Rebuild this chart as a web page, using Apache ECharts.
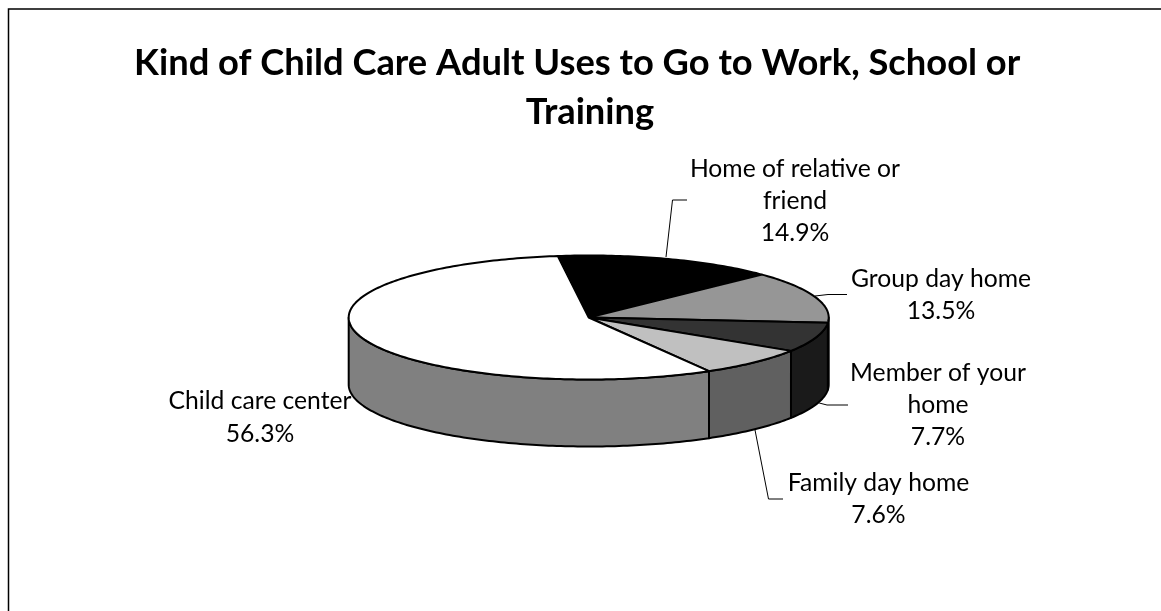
<!DOCTYPE html>
<html><head><meta charset="utf-8">
<style>html,body{margin:0;padding:0;background:#fff}#c{width:1161px;height:611px}</style>
<script src="https://cdn.jsdelivr.net/npm/echarts@6/dist/echarts.min.js"></script>
</head><body><div id="c"></div>
<script>
const categories = ['Home of relative or friend','Group day home','Member of your home','Family day home','Child care center'];
const shares = [14.9,13.5,7.7,7.6,56.3];
const topColors = ['#000000','#969696','#333333','#c0c0c0','#ffffff'];
const sideColors = ['#000000','#4b4b4b','#1a1a1a','#606060','#808080'];
const titleText = 'Kind of Child Care Adult Uses to Go to Work, School or\u00a0\u00a0\u00a0\nTraining';
const FONT = 'Lato';
const cx=588.7, cy=317.5, rx=240, ry=62, depth=67, startDeg=-7.4;
const total = shares.reduce((a,b)=>a+b,0);
function pt(deg,dy){const r=deg*Math.PI/180;return [cx+rx*Math.sin(r),cy-ry*Math.cos(r)+(dy||0)];}
function arc(a,b,dy){const out=[];const n=Math.max(2,Math.ceil(Math.abs(b-a)));for(let i=0;i<=n;i++)out.push(pt(a+(b-a)*i/n,dy));return out;}
function renderSlice(params,api){
  const i=params.dataIndex;
  let acc=0;for(let k=0;k<i;k++)acc+=shares[k];
  const a=startDeg+acc/total*360,b=a+api.value(1)/total*360;
  const children=[];
  const s=Math.max(a,90),e=Math.min(b,270);
  if(e>s){
    const pts=arc(s,e,0).concat(arc(e,s,depth));
    children.push({type:'polygon',z2:1,shape:{points:pts},style:{fill:sideColors[i],stroke:'#000',lineWidth:2,lineJoin:'round'}});
  }
  const top=[[cx,cy]].concat(arc(a,b,0));
  children.push({type:'polygon',z2:10,shape:{points:top},style:{fill:topColors[i],stroke:'#000',lineWidth:2,lineJoin:'round'}});
  return {type:'group',children};
}
function lbl(x,y,text){return {type:'text',x,y,silent:true,style:{text,fill:'#000',font:'24.7px '+FONT,align:'center',verticalAlign:'middle',lineHeight:32.3}};}
function lead(points){return {type:'polyline',shape:{points},style:{stroke:'#000',lineWidth:1,fill:null}};}
const chart=echarts.init(document.getElementById('c'),null,{renderer:'canvas'});
chart.setOption({
  animation:false,
  backgroundColor:'#fff',
  title:{text:titleText,left:585,top:34,textAlign:'center',textStyle:{fontFamily:FONT,fontWeight:'bold',fontSize:36.3,lineHeight:49,color:'#000'}},
  graphic:[
    {type:'rect',shape:{x:8.5,y:9,width:1200,height:700},style:{fill:null,stroke:'#000',lineWidth:1.5}},
    lead([[666,257],[672.5,200],[687,200]]),
    lead([[815,296],[828,294.5],[847,294.5]]),
    lead([[818,402.7],[827,405],[848,405]]),
    lead([[755,430],[768.5,499],[783,499]]),
    lbl(795,201,'Home of relative or\nfriend\n14.9%'),
    lbl(941,295,'Group day home\n13.5%'),
    lbl(938,405,'Member of your\nhome\n7.7%'),
    lbl(878.5,499,'Family day home\n7.6%'),
    lbl(260,417.5,'Child care center\n56.3%')
  ],
  series:[{type:'custom',coordinateSystem:'none',silent:true,renderItem:renderSlice,
    data:categories.map((c,i)=>({name:c,value:[i,shares[i]]}))}]
});
</script></body></html>
